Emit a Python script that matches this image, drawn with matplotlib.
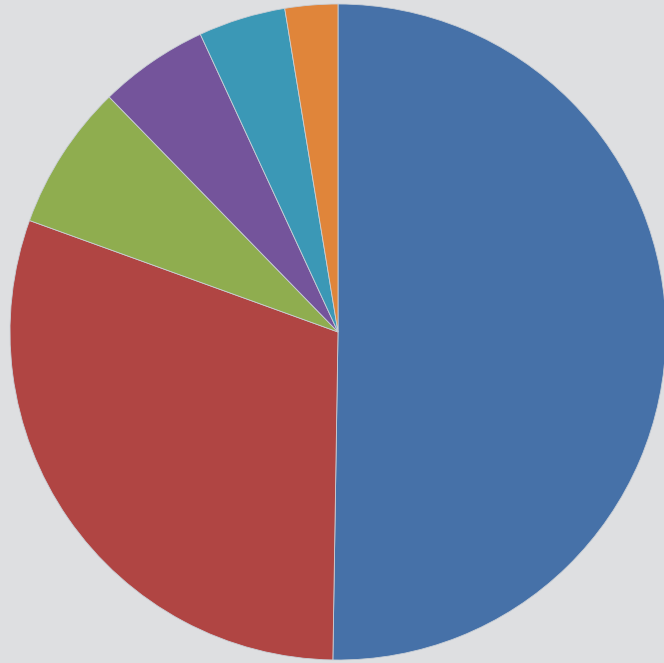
import matplotlib
matplotlib.use('Agg')
from matplotlib import pyplot as plt

# slice shares in percent, clockwise from 12 o'clock
labels = ['A', 'B', 'C', 'D', 'E', 'F']
shares = [50.3, 30.3, 7.2, 5.4, 4.3, 2.6]
colors = ['#4671a8', '#b04543', '#8fad4f', '#74549b', '#3b98b6', '#e0853a']

fig = plt.figure(figsize=(6.64, 6.63), dpi=100)
fig.patch.set_facecolor('#dedfe1')
ax = fig.add_axes([0, 0, 1, 1])
ax.set_facecolor('#dedfe1')

ax.pie(shares, colors=colors, startangle=90, counterclock=False,
       radius=1.0, wedgeprops={'linewidth': 0.6, 'edgecolor': '#c9cfd6'})

# pixel mapping: centre at (338, 332) from top-left, radius 328 px
r = 328.0
ax.set_xlim(-338 / r, (664 - 338) / r)
ax.set_ylim(-(663 - 332) / r, 332 / r)
ax.set_aspect('auto')
ax.axis('off')

fig.savefig('out.png', dpi=100, facecolor=fig.get_facecolor())
